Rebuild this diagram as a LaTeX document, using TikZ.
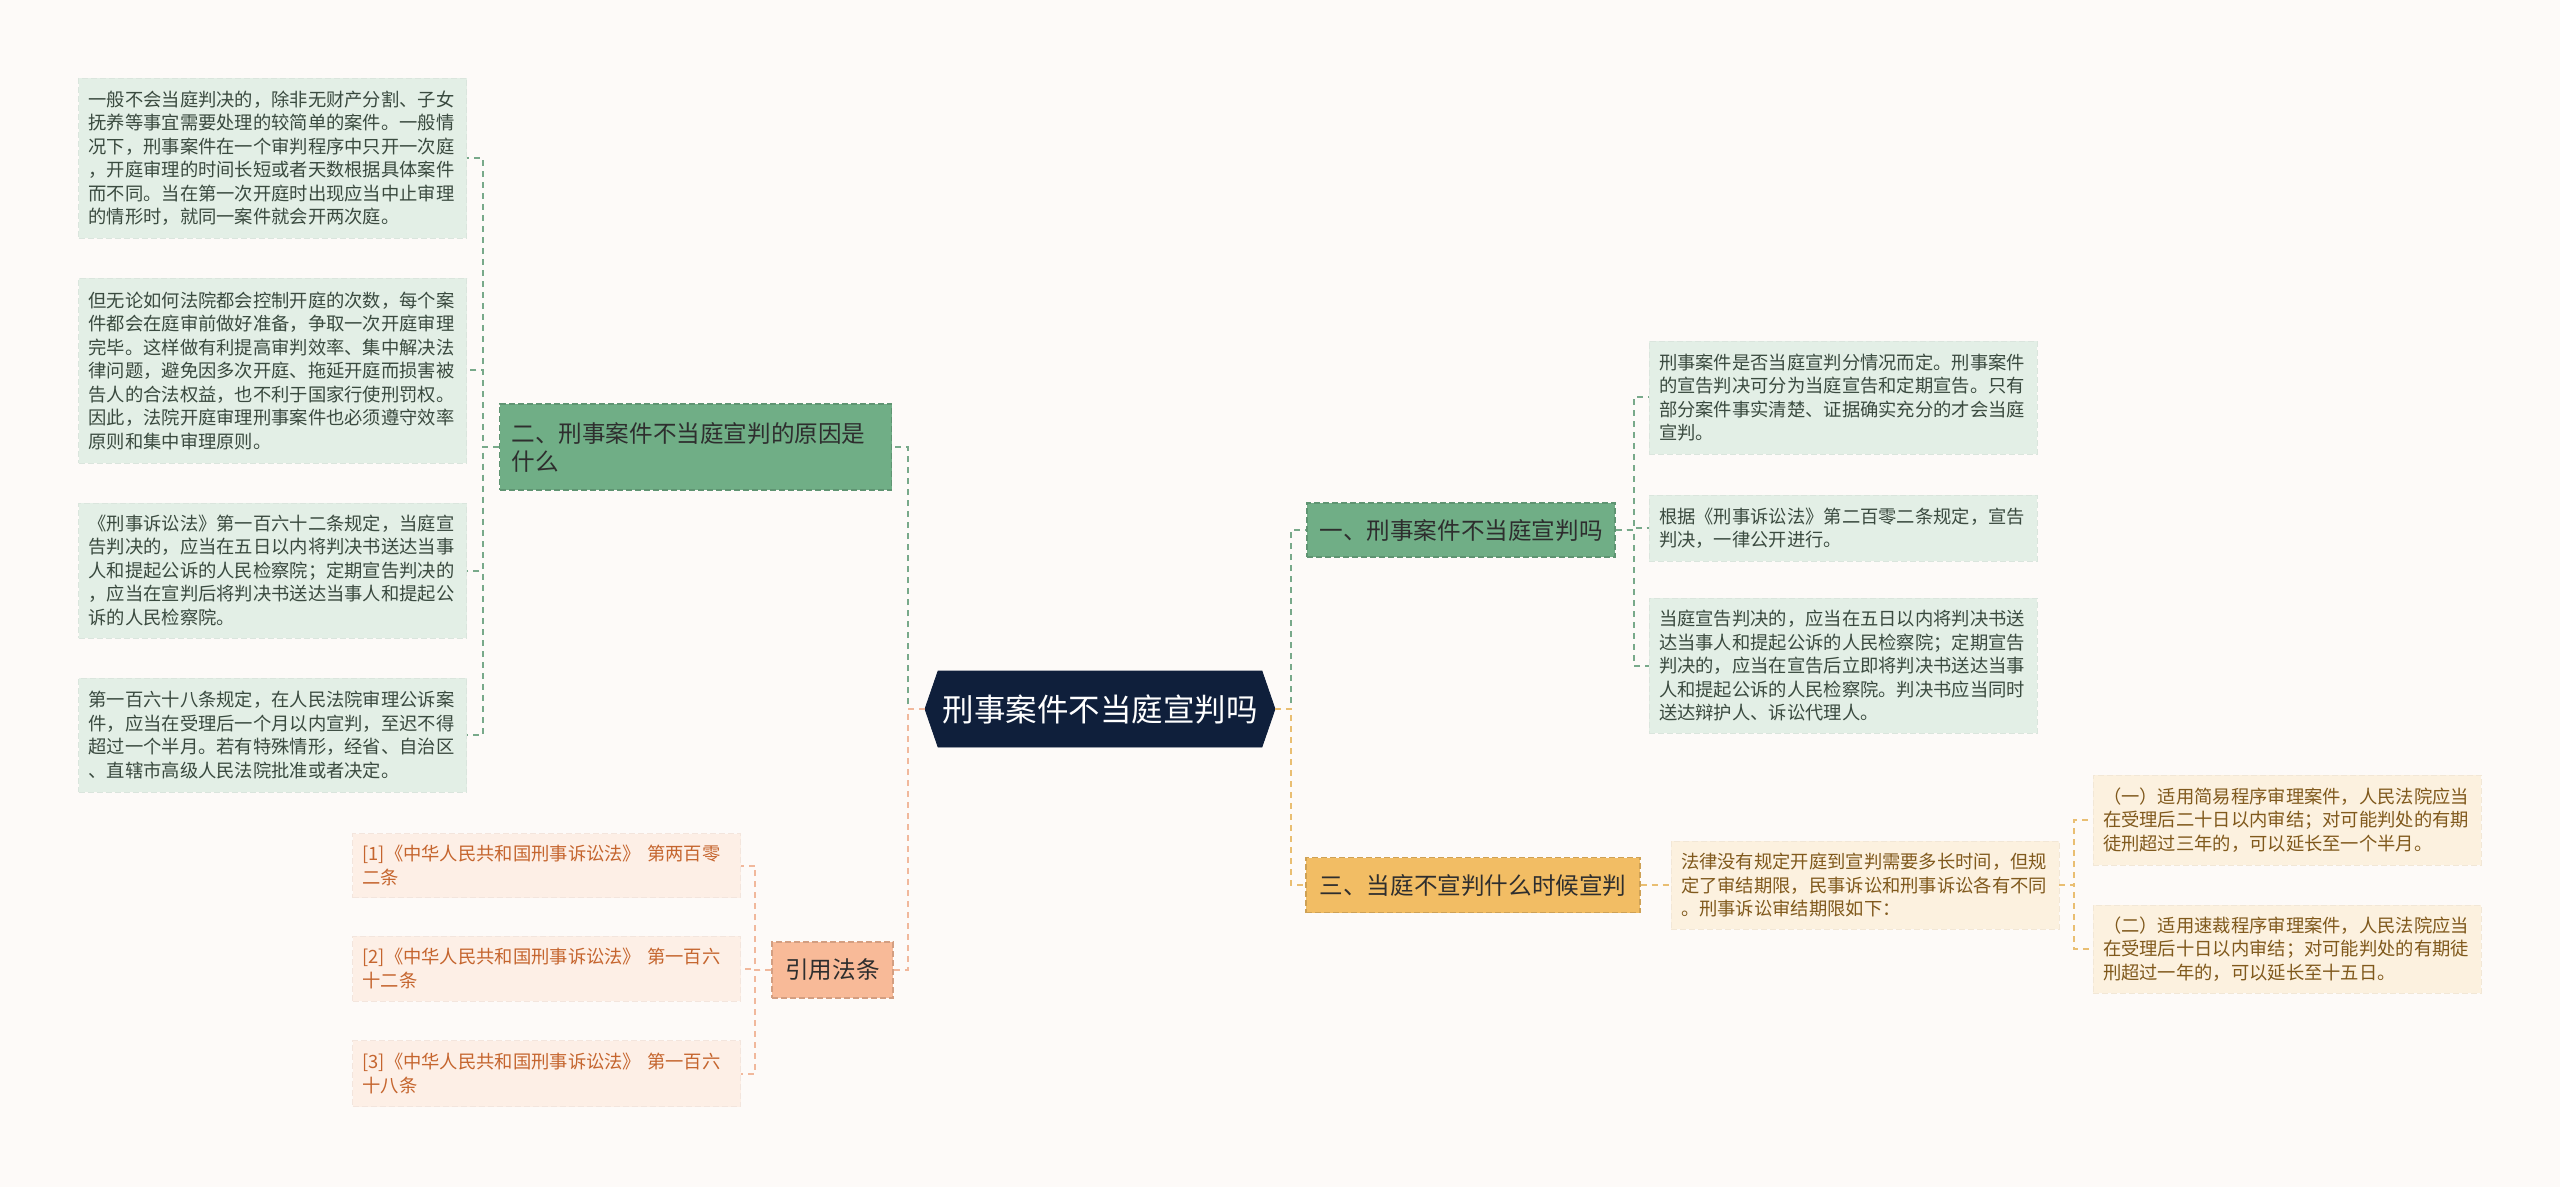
\documentclass[tikz,border=0pt]{standalone}
\usepackage{fontspec}
\setmainfont{Noto Sans CJK SC}
\usetikzlibrary{positioning, shapes.symbols}
\definecolor{bgpaper}{HTML}{FDFAF8}
\definecolor{sroot}{HTML}{0F1F3B}
\definecolor{sgreen}{HTML}{70AE86}
\definecolor{greenline}{HTML}{78A98A}
\definecolor{greensoft}{HTML}{E3EFE6}
\definecolor{greentext}{HTML}{3A4A3F}
\definecolor{syellow}{HTML}{F2BD64}
\definecolor{yellowline}{HTML}{E9BE72}
\definecolor{yellowsoft}{HTML}{FCF1DF}
\definecolor{yellowtext}{HTML}{80591C}
\definecolor{ssalmon}{HTML}{F8BA98}
\definecolor{salmonline}{HTML}{F1B89C}
\definecolor{salmonsoft}{HTML}{FDEFE6}
\definecolor{salmontext}{HTML}{C5652E}
\tikzset{
  root/.style={
    signal, signal to=east and west, signal pointer angle=142,
    fill=sroot, draw=sroot, text=white, inner xsep=0pt,
    minimum width=175pt, minimum height=38pt,
    font=\fontsize{15.75}{18}\selectfont
  },
  topic/.style={
    fill=#1, draw=#1!85!black, dash pattern=on 3pt off 1.5pt, line width=0.6pt,
    text=black!82, inner xsep=6pt, font=\fontsize{11.8}{14}\selectfont
  },
  leaf/.style={
    fill=#1soft, draw=#1soft!96!black, dash pattern=on 3pt off 1.5pt, line width=0.4pt,
    text=#1text, align=left, text width=184pt, inner xsep=5pt,
    font=\fontsize{9.15}{11.75}\selectfont
  },
  link/.style={draw=#1, line width=1pt, dash pattern=on 3pt off 2.5pt}
}
\begin{document}
\begin{tikzpicture}[x=0.5pt, y=-0.5pt]
  \fill[bgpaper] (0,0) rectangle (2560,1187);
  \useasboundingbox (0,0) rectangle (2560,1187);

  \node[root] (root) at (1100,709) {刑事案件不当庭宣判吗};

  \node[topic=sgreen, minimum width=154pt, minimum height=27pt] (one) at (1461,530)
    {一、刑事案件不当庭宣判吗};
  \node[topic=sgreen, align=left, text width=184pt, minimum height=43pt] (two) at (695.5,447)
    {二、刑事案件不当庭宣判的原因是\\什么};
  \node[topic=syellow, minimum width=167pt, minimum height=27.5pt] (three) at (1473,885)
    {三、当庭不宣判什么时候宣判};
  \node[topic=ssalmon, minimum width=60.5pt, minimum height=28pt] (cite) at (832.5,970)
    {引用法条};

  \node[leaf=green, minimum height=80pt] (l1) at (272.5,158)
    {一般不会当庭判决的，除非无财产分割、子女\\抚养等事宜需要处理的较简单的案件。一般情\\况下，刑事案件在一个审判程序中只开一次庭\\，开庭审理的时间长短或者天数根据具体案件\\而不同。当在第一次开庭时出现应当中止审理\\的情形时，就同一案件就会开两次庭。};
  \node[leaf=green, minimum height=92.5pt] (l2) at (272.5,370.5)
    {但无论如何法院都会控制开庭的次数，每个案\\件都会在庭审前做好准备，争取一次开庭审理\\完毕。这样做有利提高审判效率、集中解决法\\律问题，避免因多次开庭、拖延开庭而损害被\\告人的合法权益，也不利于国家行使刑罚权。\\因此，法院开庭审理刑事案件也必须遵守效率\\原则和集中审理原则。};
  \node[leaf=green, minimum height=67.5pt] (l3) at (272.5,570.5)
    {《刑事诉讼法》第一百六十二条规定，当庭宣\\告判决的，应当在五日以内将判决书送达当事\\人和提起公诉的人民检察院；定期宣告判决的\\，应当在宣判后将判决书送达当事人和提起公\\诉的人民检察院。};
  \node[leaf=green, minimum height=57pt] (l4) at (272.5,735)
    {第一百六十八条规定，在人民法院审理公诉案\\件，应当在受理后一个月以内宣判，至迟不得\\超过一个半月。若有特殊情形，经省、自治区\\、直辖市高级人民法院批准或者决定。};

  \node[leaf=green, minimum height=56.5pt] (r1) at (1843,397.5)
    {刑事案件是否当庭宣判分情况而定。刑事案件\\的宣告判决可分为当庭宣告和定期宣告。只有\\部分案件事实清楚、证据确实充分的才会当庭\\宣判。};
  \node[leaf=green, minimum height=33pt] (r2) at (1843,528)
    {根据《刑事诉讼法》第二百零二条规定，宣告\\判决，一律公开进行。};
  \node[leaf=green, minimum height=67.5pt] (r3) at (1843,665.5)
    {当庭宣告判决的，应当在五日以内将判决书送\\达当事人和提起公诉的人民检察院；定期宣告\\判决的，应当在宣告后立即将判决书送达当事\\人和提起公诉的人民检察院。判决书应当同时\\送达辩护人、诉讼代理人。};

  \node[leaf=yellow, minimum height=44pt] (c0) at (1865,885)
    {法律没有规定开庭到宣判需要多长时间，但规\\定了审结期限，民事诉讼和刑事诉讼各有不同\\。刑事诉讼审结期限如下：};
  \node[leaf=yellow, minimum height=45pt] (c1) at (2287,820)
    {（一）适用简易程序审理案件，人民法院应当\\在受理后二十日以内审结；对可能判处的有期\\徒刑超过三年的，可以延长至一个半月。};
  \node[leaf=yellow, minimum height=44pt] (c2) at (2287,949)
    {（二）适用速裁程序审理案件，人民法院应当\\在受理后十日以内审结；对可能判处的有期徒\\刑超过一年的，可以延长至十五日。};

  \node[leaf=salmon, minimum height=32pt] (f1) at (546.5,865.5)
    {[1]《中华人民共和国刑事诉讼法》 第两百零\\二条};
  \node[leaf=salmon, minimum height=32.5pt] (f2) at (546.5,968.5)
    {[2]《中华人民共和国刑事诉讼法》 第一百六\\十二条};
  \node[leaf=salmon, minimum height=33pt] (f3) at (546.5,1073.5)
    {[3]《中华人民共和国刑事诉讼法》 第一百六\\十八条};

  \draw[link=greenline] (root.west) -- ++(-17,0) |- (two.east);
  \draw[link=salmonline] (root.west) -- ++(-17,0) |- (cite.east);
  \draw[link=greenline] (root.east) -- ++(16,0) |- (one.west);
  \draw[link=yellowline] (root.east) -- ++(16,0) |- (three.west);
  \foreach \n in {l1,l2,l3,l4}
    \draw[link=greenline] (two.west) -- ++(-16,0) |- (\n.east);
  \foreach \n in {r1,r2,r3}
    \draw[link=greenline] (one.east) -- ++(18,0) |- (\n.west);
  \draw[link=yellowline] (three.east) -- (c0.west);
  \foreach \n in {c1,c2}
    \draw[link=yellowline] (c0.east) -- ++(15,0) |- (\n.west);
  \foreach \n in {f1,f2,f3}
    \draw[link=salmonline] (cite.west) -- ++(-16,0) |- (\n.east);
\end{tikzpicture}
\end{document}
